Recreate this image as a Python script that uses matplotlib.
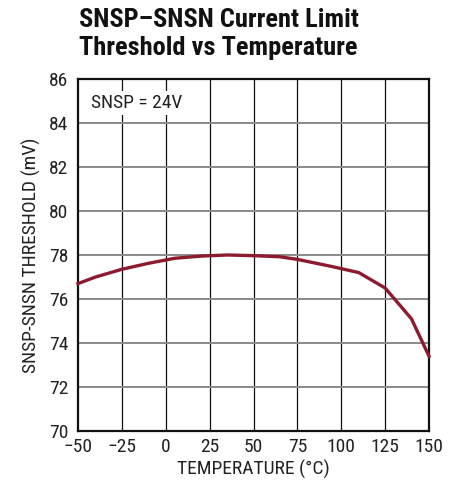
import matplotlib
matplotlib.use("Agg")
import matplotlib.pyplot as plt

# SNSP-SNSN current limit threshold vs temperature
temperature_c = [-50, -40, -25, -10, 5, 20, 35, 50, 65, 75, 95, 110, 125, 140, 150]
threshold_mv = [76.7, 77.0, 77.35, 77.62, 77.85, 77.95, 78.0, 77.97, 77.92, 77.8, 77.47, 77.2, 76.5, 75.1, 73.4]

x_ticks = [-50, -25, 0, 25, 50, 75, 100, 125, 150]
x_ticklabels = ["\u221250", "\u221225", "0", "25", "50", "75", "100", "125", "150"]
y_ticks = [70, 72, 74, 76, 78, 80, 82, 84, 86]

plt.rcParams["font.family"] = ["Roboto Condensed", "DejaVu Sans"]

fig = plt.figure(figsize=(4.6, 4.87), dpi=100)
ax = fig.add_axes([0.1696, 0.115, 0.763, 0.7228])

ax.set_xlim(-50, 150)
ax.set_ylim(70, 86)
ax.set_xticks(x_ticks)
ax.set_xticklabels(x_ticklabels)
ax.set_yticks(y_ticks)
ax.tick_params(length=0, labelsize=14, colors="#222222")
ax.tick_params(axis="x", pad=5)
ax.tick_params(axis="y", pad=7)

for t in x_ticks[1:-1]:
    ax.axvline(t, color="#111111", lw=0.9, zorder=1)
for t in y_ticks[1:-1]:
    ax.axhline(t, color="#8a8a8a", lw=1.4, zorder=1)

ax.plot(temperature_c, threshold_mv, color="#8c1b2e", lw=2.4, zorder=3, clip_on=False)

for s in ax.spines.values():
    s.set_linewidth(1.6)
    s.set_color("#111111")

ax.set_xlabel("TEMPERATURE (\u00b0C)", fontsize=14, color="#222222", labelpad=3)
ax.set_ylabel("SNSP-SNSN THRESHOLD (mV)", fontsize=14, color="#222222", labelpad=6)

ax.text(-42.5, 84.9, "SNSP = 24V", fontsize=14, color="#222222", va="center", ha="left",
        bbox=dict(facecolor="white", edgecolor="none", pad=2), zorder=4)

fig.text(0.172, 1 - 27 / 487, "SNSP\u2013SNSN Current Limit",
         fontsize=19, fontweight="bold", ha="left", va="baseline", color="#111111")
fig.text(0.172, 1 - 55 / 487, "Threshold vs Temperature",
         fontsize=19, fontweight="bold", ha="left", va="baseline", color="#111111")

fig.savefig("out.png", dpi=100)
